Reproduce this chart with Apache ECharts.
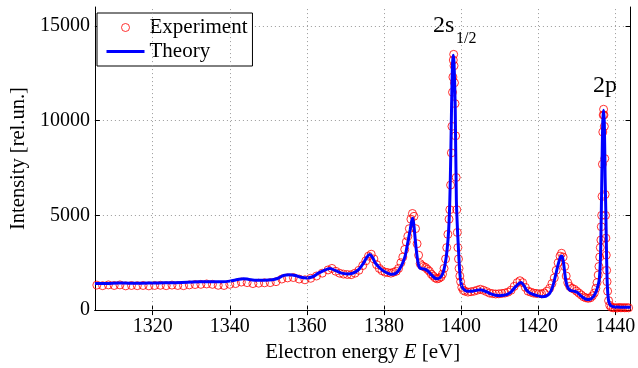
<!DOCTYPE html>
<html><head><meta charset="utf-8">
<script src="https://cdn.jsdelivr.net/npm/echarts@6/dist/echarts.min.js"></script>
<style>html,body{margin:0;padding:0;background:#fff}#c{width:638px;height:368px}</style>
</head><body><div id="c"></div>
<script>
const expE = [
1305.5,1307,1308.5,1310,1311.5,1313,1314.5,1316,1317.5,1319,
1320.5,1322,1323.5,1325,1326.5,1328,1329.5,1331,1332.5,1334,
1335.5,1337,1338.5,1340,1341.5,1343,1344.5,1346,1347.5,1349,
1350.5,1352,1353.5,1355,1356.5,1358,1359.5,1361,1362.5,1364,
1365.5,1366.5,1367.5,1368.5,1369.5,1370.5,1371.5,1372.5,1373.5,1374.5,
1375.3,1376,1376.7,1377.4,1378.1,1378.8,1379.5,1380.3,1381,1381.8,
1382.5,1383.2,1383.8,1384.4,1384.9,1385.4,1385.8,1386.2,1386.6,1387,
1387.4,1387.8,1388.2,1388.6,1389,1389.4,1389.8,1390.3,1390.8,1391.3,
1391.8,1392.3,1392.8,1393.3,1393.8,1394.3,1394.8,1395.2,1395.6,1396,
1396.3,1396.6,1396.9,1397.1,1397.3,1397.5,1397.65,1397.8,1397.9,1398,
1398.1,1398.2,1398.3,1398.45,1398.6,1398.75,1398.9,1399.05,1399.2,1399.35,
1399.5,1399.7,1399.9,1400.2,1400.6,1401,1401.8,1402.6,1403.4,1404.2,
1405,1405.8,1406.6,1407.4,1408.2,1409,1409.8,1410.6,1411.4,1412.2,
1413,1413.8,1414.6,1415.3,1416,1416.7,1417.4,1418.1,1418.8,1419.5,
1420.2,1420.9,1421.6,1422.3,1423,1423.6,1424.2,1424.7,1425.2,1425.7,
1426.1,1426.5,1426.9,1427.3,1427.7,1428.2,1428.8,1429.4,1430,1430.6,
1431.2,1431.8,1432.4,1433,1433.6,1434.1,1434.6,1435,1435.3,1435.6,
1435.8,1436,1436.15,1436.3,1436.4,1436.5,1436.6,1436.7,1436.8,1436.9,
1437,1437.1,1437.2,1437.3,1437.4,1437.5,1437.6,1437.7,1437.8,1437.9,
1438.05,1438.3,1438.6,1439,1439.5,1440,1440.5,1441,1441.5,1442,
1442.5,1443,1443.5
];
const expI = [
1320,1290,1330,1300,1330,1280,1300,1290,1300,1280,
1300,1310,1290,1320,1300,1290,1330,1350,1360,1380,
1360,1310,1300,1360,1400,1480,1450,1400,1420,1440,
1450,1500,1640,1700,1720,1640,1600,1680,1800,1950,
2120,2200,2050,1950,1900,1880,1870,1950,2100,2350,
2600,2850,2950,2700,2400,2200,2080,2000,1980,1950,
2000,2050,2200,2500,2800,3200,3600,3900,4300,4800,
5100,4950,4300,3500,2900,2450,2350,2300,2250,2150,
2050,1900,1800,1700,1650,1680,1750,1900,2200,2700,
3300,4000,4800,5300,6600,8300,9700,11500,12300,13200,
13500,12900,12000,10900,9200,7000,5300,4100,3300,2700,
2200,1800,1500,1200,1050,1000,950,970,1000,1050,
1100,1050,980,900,870,850,860,880,900,950,
1050,1250,1450,1550,1450,1200,1000,950,900,880,
870,860,900,1000,1150,1400,1700,2100,2500,2850,
3000,2800,2300,1800,1450,1250,1150,1100,1000,900,
800,700,650,620,650,750,900,1150,1450,1850,
2300,2800,3300,3700,4400,5000,6000,7700,9400,10300,
10600,10300,9700,8000,6100,5000,3800,2900,2100,1500,
1000,500,250,150,120,130,110,140,120,130,
120,130,120
];
const theoE = [
1305,1308,1311,1314,1317,1320,1323,1326,1329,1332,
1335,1338,1340,1342,1343.5,1345,1347,1349,1351,1352.5,
1354,1355.5,1357,1358.5,1360,1361.5,1363,1364.5,1366,1367.5,
1369,1370.5,1372,1373.5,1374.7,1375.6,1376.3,1377,1377.8,1378.8,
1380,1381.2,1382.2,1383.2,1384.1,1384.8,1385.5,1386,1386.8,1387.2,
1387.5,1387.9,1388.3,1388.9,1389.5,1390.4,1391.3,1392,1393,1393.8,
1394.6,1395.3,1395.9,1396.4,1396.8,1397.1,1397.35,1397.55,1397.8,1398,
1398.2,1398.5,1398.8,1399.1,1399.4,1399.7,1400.2,1401,1402,1403,
1404,1405,1406,1407,1408,1409,1410,1411,1412,1413,
1414,1415,1415.6,1416.3,1417,1418,1419.5,1421,1422,1423,
1423.8,1424.5,1425.2,1425.8,1426.2,1426.6,1427.1,1427.6,1428.3,1429.3,
1430.2,1431,1432,1432.8,1433.5,1434.3,1435,1435.5,1435.9,1436.2,
1436.4,1436.6,1436.8,1437,1437.2,1437.4,1437.6,1437.8,1438,1438.3,
1438.8,1439.5,1440.5,1442,1444
];
const theoI = [
1400,1400,1430,1420,1420,1430,1440,1450,1470,1490,
1500,1500,1530,1610,1660,1620,1580,1580,1600,1680,
1830,1870,1830,1730,1700,1760,1950,2100,2190,2080,
1950,1910,1950,2150,2480,2800,2940,2800,2480,2250,
2050,1930,1890,1960,2180,2450,2850,3360,4230,4700,
4850,4230,3360,2450,2200,2180,2080,1930,1720,1650,
1720,1950,2450,3200,4230,5800,8200,10700,13000,13450,
13000,10700,5800,4200,3000,1960,1260,1050,990,1000,
1040,1080,1020,930,840,780,760,780,830,960,
1200,1400,1460,1300,1060,890,780,710,730,880,
1250,1800,2400,2800,2850,2500,1700,1250,1050,1000,
930,780,620,560,570,700,950,1250,1650,2800,
5000,7800,10000,10550,9800,7000,5000,2600,1200,500,
250,180,160,150,150
];
const xTicks = [1320,1340,1360,1380,1400,1420,1440];
const yTicks = [0,5000,10000,15000];
const xRange = [1305, 1444];
const yRange = [0, 16000];

const FONT = 'Liberation Serif';
const expData = expE.map((e, i) => [e, expI[i]]);
const theoData = theoE.map((e, i) => [e, theoI[i]]);
const gridStyle = {color: '#9a9a9a', width: 1, type: [1, 3]};

const chart = echarts.init(document.getElementById('c'), null, {renderer: 'canvas'});
const axisLine = {show: true, lineStyle: {color: '#000', width: 1}};
const plain = v => String(v);
chart.setOption({
  animation: false,
  backgroundColor: '#fff',
  grid: {left: 90, right: 5, top: 7, bottom: 57},
  legend: {
    orient: 'vertical', left: 97, top: 13,
    itemWidth: 38, itemHeight: 8, itemGap: 3,
    padding: [4, 5, 4, 8],
    backgroundColor: '#fff', borderColor: '#000', borderWidth: 1, borderRadius: 0,
    textStyle: {fontFamily: FONT, fontSize: 21, color: '#000'},
    data: [
      {name: 'Experiment', itemStyle: {color: 'rgba(255,255,255,0)', borderColor: '#ff0000', borderWidth: 1}},
      {name: 'Theory', itemStyle: {opacity: 0}, lineStyle: {color: '#0000ff', width: 3}}
    ]
  },
  xAxis: [{
    type: 'value', min: xRange[0], max: xRange[1],
    axisLine: axisLine,
    axisTick: {show: true, inside: true, length: 5, customValues: xTicks, lineStyle: {color: '#000'}},
    axisLabel: {customValues: xTicks, formatter: plain, fontFamily: FONT, fontSize: 20, color: '#000', margin: 7},
    splitLine: {show: false},
    name: '{n|Electron energy }{i|E}{n| [eV]}',
    nameLocation: 'middle', nameGap: 31,
    nameTextStyle: {rich: {
      n: {fontFamily: FONT, fontSize: 21, color: '#000'},
      i: {fontFamily: FONT, fontSize: 21, fontStyle: 'italic', color: '#000'}
    }}
  }, {
    type: 'value', position: 'top', min: xRange[0], max: xRange[1],
    axisLine: axisLine,
    axisTick: {show: true, inside: true, length: 5, customValues: xTicks, lineStyle: {color: '#000'}},
    axisLabel: {show: false}, splitLine: {show: false}
  }],
  yAxis: [{
    type: 'value', min: yRange[0], max: yRange[1], interval: 5000,
    axisLine: axisLine,
    axisTick: {show: true, inside: true, length: 5, customValues: yTicks, lineStyle: {color: '#000'}},
    axisLabel: {customValues: yTicks, formatter: plain, fontFamily: FONT, fontSize: 20, color: '#000', margin: 5},
    splitLine: {show: true, lineStyle: gridStyle},
    name: 'Intensity [rel.un.]', nameLocation: 'middle', nameGap: 62, nameRotate: 90,
    nameTextStyle: {fontFamily: FONT, fontSize: 20.5, color: '#000'}
  }, {
    type: 'value', position: 'right', min: yRange[0], max: yRange[1], interval: 5000,
    axisLine: axisLine,
    axisTick: {show: true, inside: true, length: 5, customValues: yTicks, lineStyle: {color: '#000'}},
    axisLabel: {show: false}, splitLine: {show: false}
  }],
  series: [{
    name: 'gridX', type: 'line', xAxisIndex: 0, yAxisIndex: 0, data: [], z: 1, silent: true,
    markLine: {
      silent: true, symbol: 'none', label: {show: false},
      lineStyle: gridStyle, animation: false,
      data: xTicks.map(v => ({xAxis: v}))
    }
  }, {
    name: 'Experiment', type: 'scatter', xAxisIndex: 0, yAxisIndex: 0,
    data: expData, symbol: 'circle', symbolSize: 8, z: 2,
    itemStyle: {color: 'rgba(255,255,255,0)', borderColor: '#ff0000', borderWidth: 1}
  }, {
    name: 'Theory', type: 'line', xAxisIndex: 0, yAxisIndex: 0,
    data: theoData, showSymbol: false, symbol: 'none', smooth: 0.3, z: 3,
    lineStyle: {color: '#0000ff', width: 3}, itemStyle: {color: '#0000ff'}
  }],
  graphic: [
    {type: 'text', left: 433, top: 14, style: {text: '2s', font: '24px "Liberation Serif"', fill: '#000'}},
    {type: 'text', left: 456, top: 31, style: {text: '1/2', font: '16px "Liberation Serif"', fill: '#000'}},
    {type: 'text', left: 593, top: 74, style: {text: '2p', font: '24px "Liberation Serif"', fill: '#000'}}
  ]
});
</script>
</body></html>
